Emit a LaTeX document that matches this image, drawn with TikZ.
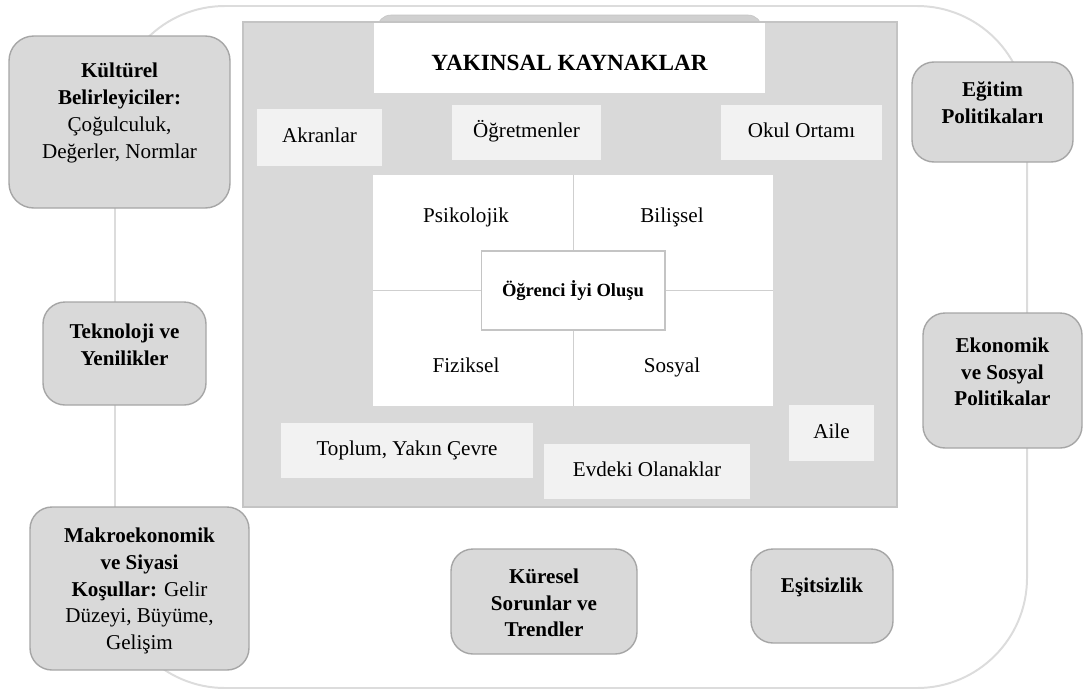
\documentclass[tikz,border=0pt]{standalone}
\usepackage{fontspec}
\setmainfont{Liberation Serif}
\usetikzlibrary{fit}
\definecolor{boxgray}{HTML}{D9D9D9}
\definecolor{boxline}{HTML}{A6A6A6}
\definecolor{palefill}{HTML}{F2F2F2}
\definecolor{frameline}{HTML}{DCDCDC}
\definecolor{regionline}{HTML}{C4C4C4}
\definecolor{tabfill}{HTML}{D0D0D0}
\definecolor{quadline}{HTML}{CFCFCF}
\tikzset{
  sidebox/.style={draw=boxline, fill=boxgray, line width=1pt, rounded corners=0.55cm, inner sep=0pt},
  palebox/.style={fill=palefill, inner sep=0pt},
  boxtext/.style={align=center, inner sep=0pt, font=\fontsize{15}{19}\selectfont},
  quadtext/.style={inner sep=0pt, text height=10.5pt, text depth=3pt, font=\fontsize{15}{19}\selectfont},
}
\begin{document}
\begin{tikzpicture}[x=0.025cm, y=-0.025cm]
  \useasboundingbox (0,0) rectangle (1083,691);
  \draw[frameline, line width=1.4pt, rounded corners=2.75cm] (115,6) rectangle (1027,688);

  \draw[fill=tabfill, draw=regionline, rounded corners=0.35cm] (377,15) rectangle (762,60);
  \node[fit={(243,22) (897,507)}, fill=boxgray, draw=regionline, line width=1pt, inner sep=0pt] (proximal) {};
  \node[fit={(374,23) (765,93)}, fill=white, inner sep=0pt] (header) {};
  \node[inner sep=0pt, text height=11.5pt, text depth=0pt, font=\bfseries\fontsize{16.5}{20}\selectfont]
    (headertext) at (569.5,62) {YAKINSAL KAYNAKLAR};

  \node[palebox, fit={(257,109) (382,166)}] (akran) {};
  \node[quadtext] (akrantext) at (akran.center) {Akranlar};
  \node[palebox, fit={(452,105) (601,160)}] (ogretmen) {};
  \node[quadtext] (ogretmentext) at (ogretmen.center) {Öğretmenler};
  \node[palebox, fit={(721,105) (882,160)}] (okul) {};
  \node[quadtext] (okultext) at (okul.center) {Okul Ortamı};
  \node[palebox, fit={(281,423) (533,478)}] (toplum) {};
  \node[quadtext] (toplumtext) at (toplum.center) {Toplum, Yakın Çevre};
  \node[palebox, fit={(544,444) (750,499)}] (evdeki) {};
  \node[quadtext] (evdekitext) at (evdeki.center) {Evdeki Olanaklar};
  \node[palebox, fit={(789,405) (874,461)}] (aile) {};
  \node[quadtext] (ailetext) at (aile.center) {Aile};

  \node[fit={(373,175) (773,406)}, fill=white, inner sep=0pt] (quad) {};
  \draw[quadline, line width=0.7pt] (quad.north) -- (quad.south);
  \draw[quadline, line width=0.7pt] (quad.west) -- (quad.east);
  \node[draw=regionline, fill=white, line width=1.4pt, minimum width=4.575cm, minimum height=1.975cm,
    font=\bfseries\fontsize{13.2}{16}\selectfont] (wellbeing) at (quad.center) {Öğrenci İyi Oluşu};
  \node[quadtext] (psiko) at (466,217.5) {Psikolojik};
  \node[quadtext] (bilis) at (672,217.5) {Bilişsel};
  \node[quadtext] (fizik) at (466,367.5) {Fiziksel};
  \node[quadtext] (sosyal) at (672,367.5) {Sosyal};

  \node[sidebox, rounded corners=0.62cm, fit={(9,36) (230,208)}] (kultur) {};
  \node[boxtext] (kulturtext) at (119.5,113) {\textbf{Kültürel}\\\textbf{Belirleyiciler:}\\Çoğulculuk,\\Değerler, Normlar};
  \node[sidebox, fit={(43,302) (206,405)}] (teknoloji) {};
  \node[boxtext] (teknolojitext) at (124.5,345) {\textbf{Teknoloji ve}\\\textbf{Yenilikler}};
  \node[sidebox, fit={(30,507) (249,670)}] (makro) {};
  \node[boxtext] (makrotext) at (139.5,591) {\textbf{Makroekonomik}\\\textbf{ve Siyasi}\\\textbf{Koşullar:} Gelir\\Düzeyi, Büyüme,\\Gelişim};
  \node[sidebox, fit={(912,62) (1073,162)}] (egitim) {};
  \node[boxtext] (egitimtext) at (992.5,102.5) {\textbf{Eğitim}\\\textbf{Politikaları}};
  \node[sidebox, fit={(923,313) (1082,448)}] (ekonomik) {};
  \node[boxtext] (ekonomiktext) at (1002.5,372) {\textbf{Ekonomik}\\\textbf{ve Sosyal}\\\textbf{Politikalar}};
  \node[sidebox, fit={(451,549) (637,654)}] (kuresel) {};
  \node[boxtext] (kureseltext) at (544,603) {\textbf{Küresel}\\\textbf{Sorunlar ve}\\\textbf{Trendler}};
  \node[sidebox, fit={(751,549) (893,643)}] (esitsizlik) {};
  \node[boxtext] (esitsizliktext) at (822,587) {\textbf{Eşitsizlik}};
\end{tikzpicture}
\end{document}
